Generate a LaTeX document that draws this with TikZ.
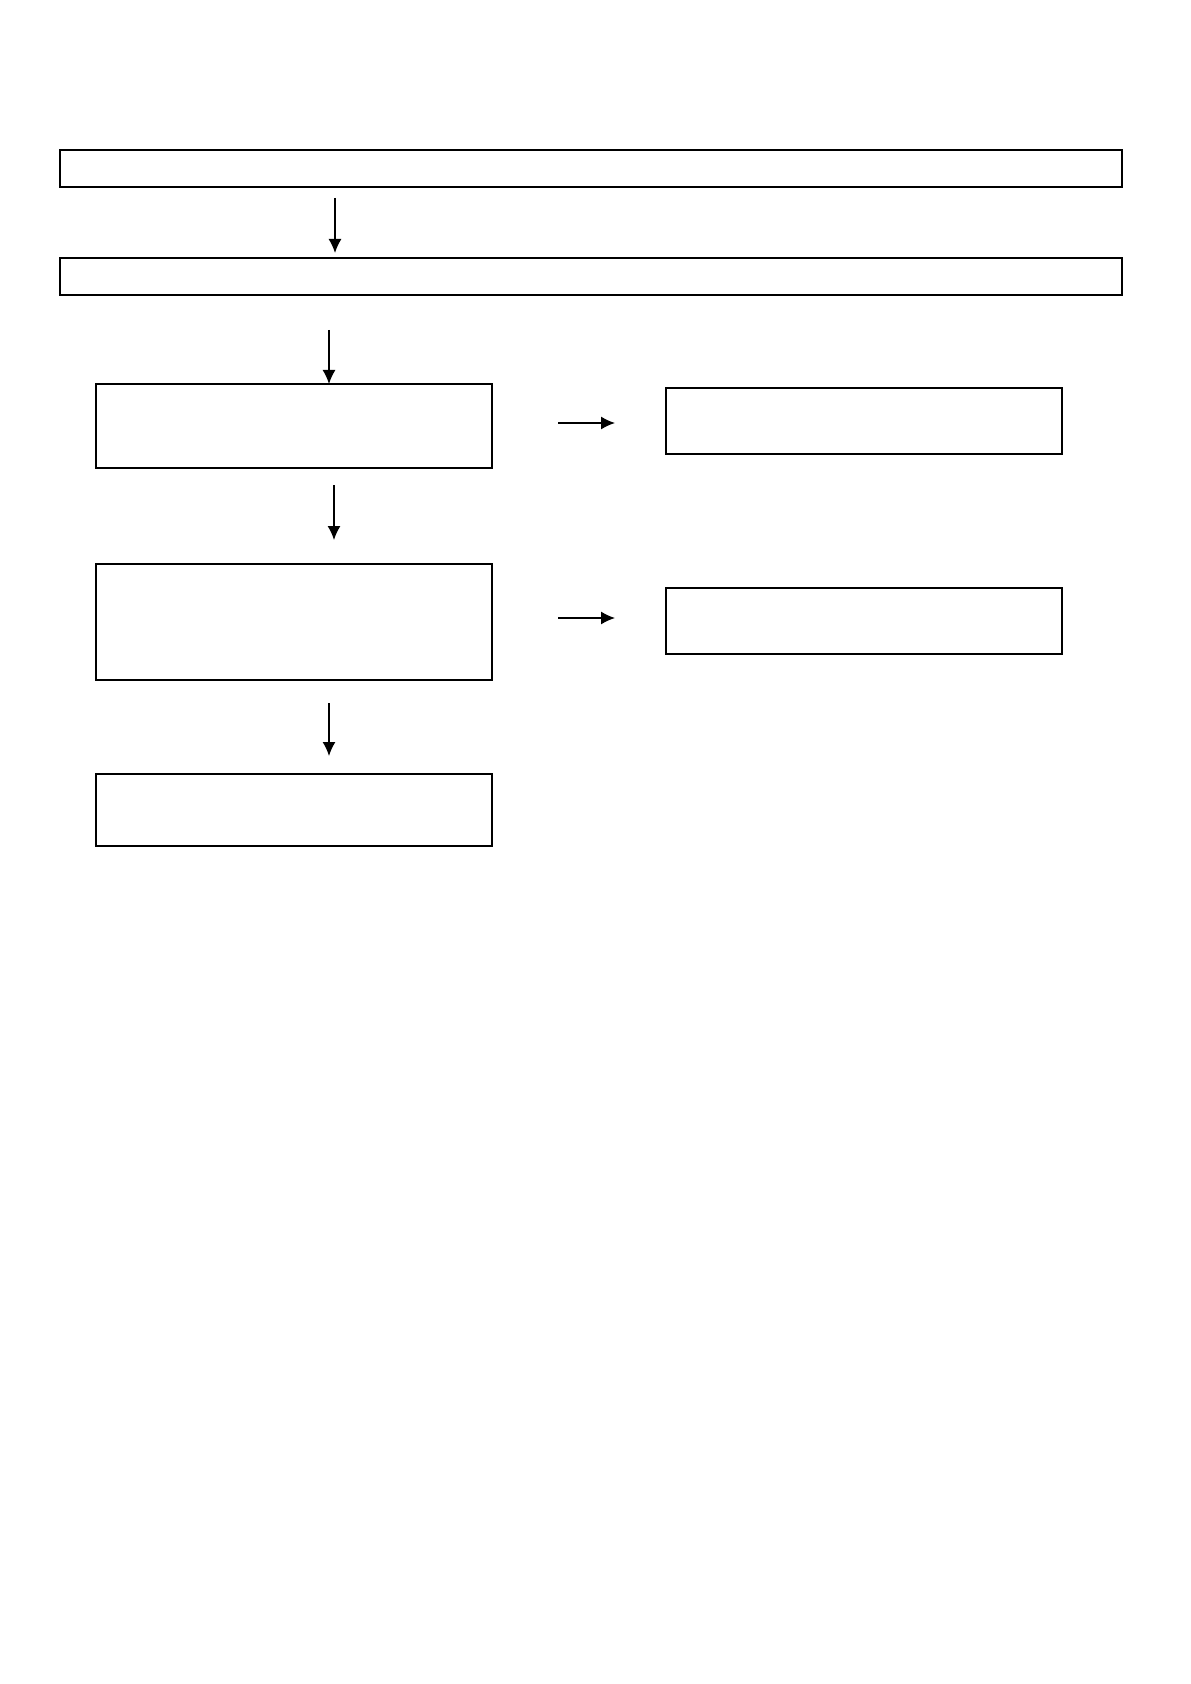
\documentclass[tikz,border=0pt]{standalone}
\usetikzlibrary{arrows.meta,fit}

\tikzset{
  box/.style={draw, line width=1pt, inner sep=0pt},
  sidebox/.style={draw, line width=0.7pt, inner sep=0pt},
  flow/.style={line width=0.7pt, -{Latex[length=7pt,width=6.5pt]}}
}

\begin{document}
\begin{tikzpicture}[x=0.5pt,y=-0.5pt]
\useasboundingbox (0,0) rectangle (1190,1684);

% Main column
\node[box, fit={(60,150)(1122,187)}] (head) {};
\node[box, fit={(60,258)(1122,295)}] (second) {};
\node[box, fit={(96,384)(492,468)}] (stepone) {};
\node[box, fit={(96,564)(492,680)}] (steptwo) {};
\node[box, fit={(96,774)(492,846)}] (last) {};

% Side boxes
\node[sidebox, fit={(666,388)(1062,454)}] (sideone) {};
\node[sidebox, fit={(666,588)(1062,654)}] (sidetwo) {};

% Downward arrows
\draw[flow] ([shift={(276,10)}]head.south west) -- ++(0,55);
\draw[flow] ([shift={(270,34)}]second.south west) -- ++(0,54);
\draw[flow] ([shift={(239,16)}]stepone.south west) -- ++(0,55);
\draw[flow] ([shift={(234,22)}]steptwo.south west) -- ++(0,53);

% Sideways arrows
\draw[flow] ([shift={(65,423)}]stepone.north east |- 0,0) -- ++(57,0);
\draw[flow] ([shift={(65,618)}]steptwo.north east |- 0,0) -- ++(57,0);
\end{tikzpicture}
\end{document}
